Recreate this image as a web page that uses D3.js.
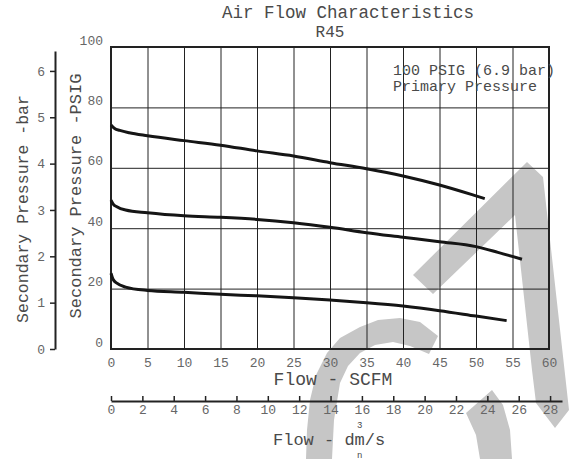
<!DOCTYPE html>
<html><head><meta charset="utf-8">
<script src="https://cdn.jsdelivr.net/npm/d3@7"></script>
<style>
html,body{margin:0;padding:0;background:#fff;}
svg{display:block;font-family:"Liberation Mono","DejaVu Sans Mono",monospace;}
</style></head>
<body>
<svg id="chart" width="569" height="459"></svg>
<script>
// ---- data ----
const scfmTicks = [0,5,10,15,20,25,30,35,40,45,50,55,60];
const psigTicks = [0,20,40,60,80,100];
const barTicks = [0,1,2,3,4,5,6];
const dmTicks = [0,2,4,6,8,10,12,14,16,18,20,22,24,26,28];

const flowHigh = [0,0.5,1.2,2.5,5,10,15,20,25,30,35,40,45,50,51.2];
const psigHigh = [74.2,73.0,72.4,71.6,70.6,69.0,67.5,65.6,63.9,61.7,59.7,57.3,54.3,50.7,49.8];

const flowMid = [0,0.3,0.8,2,5,10,15,20,25,30,35,40,45,50,53,56.3];
const psigMid = [49.3,48.0,47.1,46.0,45.1,44.1,43.6,42.9,41.8,40.3,38.5,37.0,35.5,33.9,32.0,29.7];

const flowLow = [0,0.3,0.8,2,5,10,15,20,25,30,35,40,45,50,54.2];
const psigLow = [25.1,23.0,21.8,20.5,19.4,18.8,18.1,17.6,17.0,16.2,15.3,14.2,12.7,10.9,9.4];

const titleText = "Air Flow Characteristics";
const subtitleText = "R45";
const noteLines = ["100 PSIG (6.9 bar)", "Primary Pressure"];

// ---- layout ----
const svg = d3.select("#chart");
const L = 111, R = 549, T = 47, B = 349;
const x = d3.scaleLinear().domain([0,60]).range([L,R]);
const y = d3.scaleLinear().domain([0,100]).range([B,T]);
const yBar = d3.scaleLinear().domain([0,6.43]).range([B,51]);
const xDm = d3.scaleLinear().domain([0,28.76]).range([L,562]);

const tickColor = "#666";
const titleColor = "#4a4a4a";

// watermark (decorative background)
const wm = svg.append("g").attr("fill","#c6c6c6");
const wmShapes = [
  [[413,275],[527,162],[543,177],[569,410],[555,428],[536,403],[532,370],[515,215],[433,294]],
  [[438,336],[420,322],[400,318],[378,320],[360,327],[340,338],[327,353],[316,375],[310,400],[307,430],[306,459],[332,459],[334,420],[340,383],[348,366],[360,353],[375,345],[393,342],[410,346],[429,354]],
  [[466,413],[492,390],[503,405],[510,430],[512,459],[480,459],[476,435]]
];
wm.selectAll("path").data(wmShapes).join("path").attr("d", d => d3.line()(d) + "Z");

// grid + SCFM axis
const gx = svg.append("g").attr("transform",`translate(0,${B})`)
  .call(d3.axisBottom(x).tickValues(scfmTicks).tickSize(-(B-T)).tickPadding(9).tickSizeOuter(0));
gx.select(".domain").remove();
gx.selectAll(".tick line").attr("stroke","#222").attr("stroke-width",1);
gx.selectAll(".tick text").attr("fill",tickColor).style("font-size","13px").style("font-family","Liberation Mono");

const gy = svg.append("g").attr("transform",`translate(${L},0)`)
  .call(d3.axisLeft(y).tickValues(psigTicks).tickSize(-(R-L)).tickPadding(8).tickSizeOuter(0));
gy.select(".domain").remove();
gy.selectAll(".tick line").attr("stroke","#222").attr("stroke-width",1);
gy.selectAll(".tick text").attr("fill",tickColor).attr("dy","-0.22em").style("font-size","13px").style("font-family","Liberation Mono");

// plot frame
svg.append("rect").attr("x",L).attr("y",T).attr("width",R-L).attr("height",B-T)
  .attr("fill","none").attr("stroke","#222").attr("stroke-width",2);

// bar axis
const gb = svg.append("g").attr("transform","translate(55,0)")
  .call(d3.axisLeft(yBar).tickValues(barTicks).tickFormat(d3.format("d")).tickSize(5).tickPadding(5).tickSizeOuter(0));
gb.select(".domain").attr("stroke","#222").attr("stroke-width",2);
gb.selectAll(".tick line").attr("stroke","#222").attr("stroke-width",1.5);
gb.selectAll(".tick text").attr("fill",tickColor).style("font-size","13px").style("font-family","Liberation Mono");

// dm3/s axis
const gd = svg.append("g").attr("transform","translate(0,401)")
  .call(d3.axisBottom(xDm).tickValues(dmTicks).tickFormat(d3.format("d")).tickSize(-5).tickPadding(4).tickSizeOuter(0));
gd.select(".domain").attr("stroke","#222").attr("stroke-width",2);
gd.selectAll(".tick line").attr("stroke","#222").attr("stroke-width",1.5);
gd.selectAll(".tick text").attr("fill",tickColor).style("font-size","13px").style("font-family","Liberation Mono");

// curves
const line = d3.line().x(d => x(d[0])).y(d => y(d[1])).curve(d3.curveMonotoneX);
const series = [
  d3.zip(flowHigh, psigHigh),
  d3.zip(flowMid, psigMid),
  d3.zip(flowLow, psigLow)
];
svg.append("g").selectAll("path").data(series).join("path")
  .attr("d", line).attr("fill","none").attr("stroke","#151515")
  .attr("stroke-width",3).attr("stroke-linecap","butt");

// titles
svg.append("text").attr("x",348).attr("y",18).attr("text-anchor","middle")
  .attr("fill",titleColor).style("font-size","17.5px").text(titleText);
svg.append("text").attr("x",330).attr("y",37).attr("text-anchor","middle")
  .attr("fill",titleColor).style("font-size","16px").text(subtitleText);

svg.append("g").selectAll("text").data(noteLines).join("text")
  .attr("x",393).attr("y",(d,i)=>75+i*16)
  .attr("fill",titleColor).style("font-size","15px").text(d=>d);

// axis titles
svg.append("text").attr("transform","translate(28,209) rotate(-90)").attr("text-anchor","middle")
  .attr("fill",titleColor).style("font-size","16.5px").text("Secondary Pressure -bar");
svg.append("text").attr("transform","translate(81,196) rotate(-90)").attr("text-anchor","middle")
  .attr("fill",titleColor).style("font-size","17px").text("Secondary Pressure -PSIG");

svg.append("text").attr("x",333).attr("y",385).attr("text-anchor","middle")
  .attr("fill",titleColor).style("font-size","18px").text("Flow - SCFM");

// Flow - dm³ₙ/s as one text element with positioned tspans
const dmX = 273, dmY = 445;
const dmLabel = svg.append("text").attr("x",dmX).attr("y",dmY)
  .attr("fill",titleColor).style("font-size","17px");
dmLabel.append("tspan").text("Flow - dm");
let wPre = 91.8;
try { wPre = dmLabel.node().getComputedTextLength(); } catch(e) {}
const mEnd = dmX + wPre;
const mCenter = mEnd - wPre/9/2;
dmLabel.append("tspan").attr("x",mCenter).attr("y",dmY-17.5).attr("text-anchor","middle")
  .style("font-size","9px").text("3");
dmLabel.append("tspan").attr("x",mCenter).attr("y",dmY+12.5).attr("text-anchor","middle")
  .style("font-size","9px").text("n");
dmLabel.append("tspan").attr("x",mEnd).attr("y",dmY).attr("text-anchor","start").text("/s");
</script>
</body></html>
